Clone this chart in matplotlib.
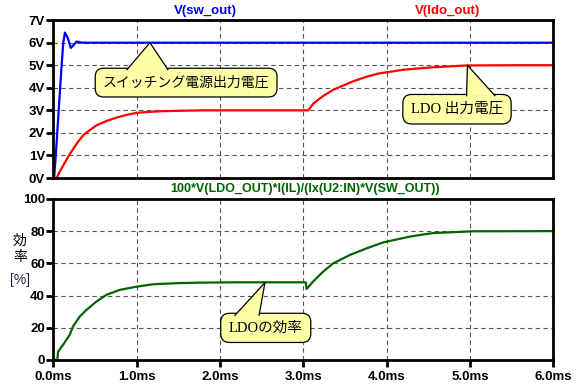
import matplotlib
matplotlib.use('Agg')
from matplotlib import pyplot as plt
from matplotlib.patches import Polygon

# switching regulator output V(sw_out)
t_sw = [0, 0.01, 0.03, 0.065, 0.1, 0.12, 0.14, 0.175, 0.21, 0.245, 0.28, 0.35, 6.0]
v_sw = [0, 0, 1.0, 3.0, 5.0, 6.0, 6.45, 6.2, 5.77, 5.9, 6.05, 6.0, 6.0]

# LDO output V(ldo_out)
t_ldo = [0, 0.04, 0.08, 0.12, 0.18, 0.24, 0.30, 0.36, 0.44, 0.52, 0.64, 0.76,
         0.88, 1.0, 1.14, 1.28, 1.5, 1.8, 3.06, 3.12, 3.24, 3.36, 3.48, 3.6,
         3.76, 3.9, 4.2, 4.52, 4.96, 5.5, 6.0]
v_ldo = [0, 0, 0.3, 0.56, 0.95, 1.3, 1.62, 1.9, 2.13, 2.34, 2.53, 2.68,
         2.8, 2.89, 2.93, 2.96, 2.98, 3.0, 3.0, 3.30, 3.64, 3.91, 4.10, 4.29,
         4.49, 4.63, 4.8, 4.9, 4.99, 5.0, 5.0]

# efficiency [%]
t_eff = [0, 0.05, 0.056, 0.116, 0.197, 0.236, 0.317, 0.397, 0.517, 0.637,
         0.797, 1.0, 1.2, 1.5, 1.76, 2.2, 3.03, 3.04, 3.12, 3.24, 3.36, 3.56,
         3.76, 3.96, 4.12, 4.3, 4.56, 5.04, 6.0]
eff = [0, 0, 5, 9.3, 15.5, 20.7, 26.9, 31, 36.2, 40.4,
       43.5, 45.5, 47, 47.7, 48.0, 48.2, 48.2, 44.1, 48.8, 54.9, 60, 65.2,
       69.3, 73, 74.8, 76.8, 78.8, 79.9, 80]

x_ticks = [0, 1, 2, 3, 4, 5, 6]
x_labels = ['0.0ms', '1.0ms', '2.0ms', '3.0ms', '4.0ms', '5.0ms', '6.0ms']
v_ticks = [0, 1, 2, 3, 4, 5, 6, 7]
v_labels = ['%dV' % v for v in v_ticks]
e_ticks = [0, 20, 40, 60, 80, 100]

plt.rcParams['font.family'] = ['Liberation Sans', 'Noto Sans CJK JP']
jp = ['Liberation Serif', 'Noto Sans CJK JP']
note_fc = '#ffffa8'

fig = plt.figure(figsize=(5.76, 3.87), dpi=100)
ax1 = fig.add_axes([0.0925, 0.540, 0.868, 0.408])
ax2 = fig.add_axes([0.0925, 0.070, 0.868, 0.416])

for ax in (ax1, ax2):
    ax.set_xlim(0, 6)
    ax.set_xticks(x_ticks)
    for s in ax.spines.values():
        s.set_linewidth(2)
    ax.grid(True, color='#555555', linestyle=(0, (4, 3)), linewidth=0.8)
    ax.tick_params(direction='out', length=5, width=2, labelsize=9.5, pad=1)

ax1.plot(t_sw, v_sw, color='#0000ff', lw=1.6)
ax1.plot(t_ldo, v_ldo, color='#ff0000', lw=1.6)
ax1.set_ylim(0, 7)
ax1.set_yticks(v_ticks)
ax1.set_yticklabels(v_labels, fontweight='bold')
ax1.tick_params(axis='x', length=0, labelbottom=False)

ax2.plot(t_eff, eff, color='#006400', lw=1.6)
ax2.set_ylim(0, 100)
ax2.set_yticks(e_ticks)
ax2.set_yticklabels([str(e) for e in e_ticks], fontweight='bold')
ax2.set_xticklabels(x_labels, fontweight='bold')
ax2.tick_params(axis='x', pad=3)

fig.text(205 / 576, 1 - 11 / 387, 'V(sw_out)', color='#0000ff', fontsize=9.5,
         fontweight='bold', ha='center', va='center')
fig.text(448 / 576, 1 - 11 / 387, 'V(ldo_out)', color='#ff0000', fontsize=9.5,
         fontweight='bold', ha='center', va='center')
fig.text(305 / 576, 1 - 189 / 387, '100*V(LDO_OUT)*I(IL)/(Ix(U2:IN)*V(SW_OUT))',
         color='#006400', fontsize=9, fontweight='bold', ha='center', va='center')

fig.text(20 / 576, 1 - 241 / 387, '効', fontsize=10, ha='center', va='center',
         family=['Noto Sans CJK JP'])
fig.text(20 / 576, 1 - 257 / 387, '率', fontsize=10, ha='center', va='center',
         family=['Noto Sans CJK JP'])
fig.text(20 / 576, 1 - 280 / 387, '[%]', fontsize=10, ha='center', va='center',
         color='#202050')


def callout(ax, text, pos, tip, base, size):
    ax.text(pos[0], pos[1], text, fontsize=size, family=jp, ha='center',
            va='center', zorder=5,
            bbox=dict(boxstyle='round,pad=0.55,rounding_size=0.6',
                      fc=note_fc, ec='black', lw=0.9))
    tri = Polygon([base[0], tip, base[1]], closed=True, fc=note_fc, ec='none',
                  zorder=6, clip_on=False)
    ax.add_patch(tri)
    ax.plot([base[0][0], tip[0], base[1][0]], [base[0][1], tip[1], base[1][1]],
            color='black', lw=0.9, zorder=7, clip_on=False)


callout(ax1, 'スイッチング電源出力電圧', (1.594, 4.23), (1.16, 6.0),
        [(0.884, 4.80), (1.376, 4.80)], 10)
callout(ax1, 'LDO 出力電圧', (4.845, 3.05), (4.97, 5.0),
        [(4.96, 3.65), (5.30, 3.65)], 10.5)
callout(ax2, 'LDOの効率', (2.55, 19.9), (2.54, 48),
        [(2.18, 27.7), (2.47, 27.7)], 10.5)

fig.savefig('out.png', dpi=100)
